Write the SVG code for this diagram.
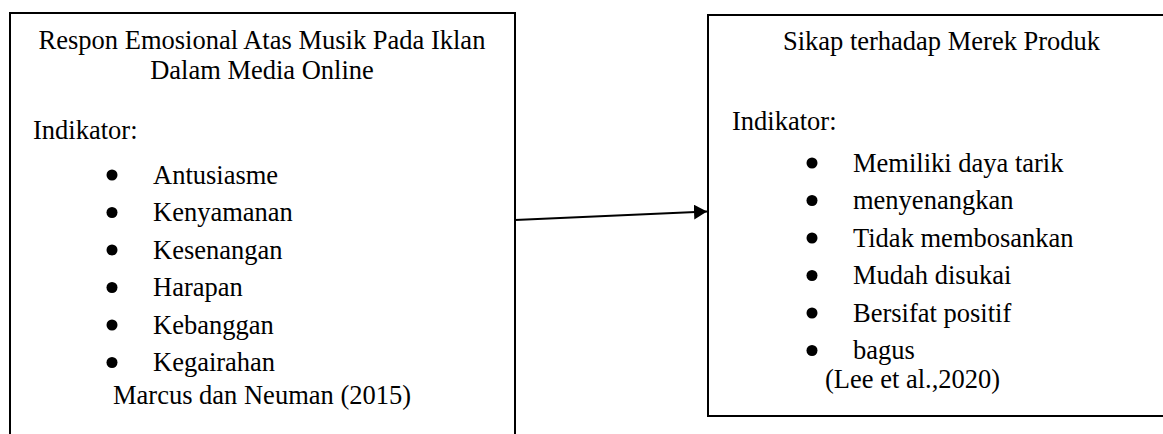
<svg xmlns="http://www.w3.org/2000/svg" width="1163" height="434" viewBox="0 0 1163 434">
<style>
  .box{fill:#fff;stroke:#000;stroke-width:2}
  .t{font-family:"Liberation Serif","Times New Roman",serif;font-size:26.5px;fill:#000}
  .c{text-anchor:middle}
  .b{fill:#000}
  .conn{stroke:#000;stroke-width:2.2;fill:none}
</style>
<defs>
  <marker id="ah" markerUnits="userSpaceOnUse" markerWidth="14" markerHeight="16" refX="13" refY="7.5" orient="auto">
    <path d="M0,0 L13,7.5 L0,15 z" fill="#000"/>
  </marker>
</defs>
<rect width="1163" height="434" fill="#fff"/>
<g id="node-respon">
  <rect class="box" x="10" y="13" width="505" height="440"/>
  <text class="t c" x="262" y="49">Respon Emosional Atas Musik Pada Iklan</text>
  <text class="t c" x="262" y="79">Dalam Media Online</text>
  <text class="t" x="33" y="139">Indikator:</text>
  <circle class="b" cx="112" cy="175" r="5.5"/><text class="t" x="153" y="183.5">Antusiasme</text>
  <circle class="b" cx="112" cy="212.5" r="5.5"/><text class="t" x="153" y="221">Kenyamanan</text>
  <circle class="b" cx="112" cy="250" r="5.5"/><text class="t" x="153" y="258.5">Kesenangan</text>
  <circle class="b" cx="112" cy="287.5" r="5.5"/><text class="t" x="153" y="296">Harapan</text>
  <circle class="b" cx="112" cy="325" r="5.5"/><text class="t" x="153" y="333.5">Kebanggan</text>
  <circle class="b" cx="112" cy="362.5" r="5.5"/><text class="t" x="153" y="371">Kegairahan</text>
  <text class="t" x="113" y="404">Marcus dan Neuman (2015)</text>
</g>
<g id="node-sikap">
  <rect class="box" x="708" y="15" width="480" height="401"/>
  <text class="t c" x="941.5" y="50">Sikap terhadap Merek Produk</text>
  <text class="t" x="732" y="130">Indikator:</text>
  <circle class="b" cx="812" cy="163" r="5.5"/><text class="t" x="853" y="171.5">Memiliki daya tarik</text>
  <circle class="b" cx="812" cy="200.5" r="5.5"/><text class="t" x="853" y="209">menyenangkan</text>
  <circle class="b" cx="812" cy="238" r="5.5"/><text class="t" x="853" y="246.5">Tidak membosankan</text>
  <circle class="b" cx="812" cy="275.5" r="5.5"/><text class="t" x="853" y="284">Mudah disukai</text>
  <circle class="b" cx="812" cy="313" r="5.5"/><text class="t" x="853" y="321.5">Bersifat positif</text>
  <circle class="b" cx="812" cy="350.5" r="5.5"/><text class="t" x="853" y="359">bagus</text>
  <text class="t" x="825" y="388">(Lee et al.,2020)</text>
</g>
<g id="connectors">
  <line class="conn" x1="515" y1="220" x2="707" y2="211.5" marker-end="url(#ah)"/>
</g>
</svg>
